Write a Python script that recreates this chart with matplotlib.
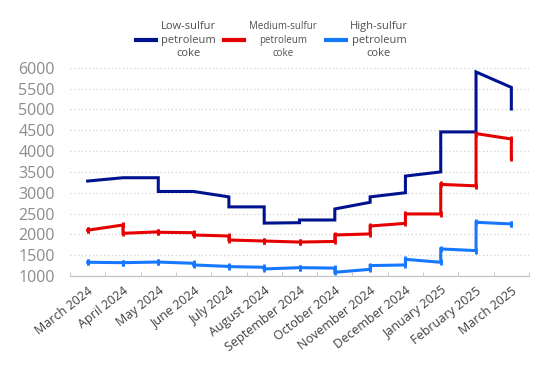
import matplotlib.pyplot as plt
import numpy as np

plt.rcParams['font.family'] = ['Open Sans', 'DejaVu Sans']

months = ['March 2024', 'April 2024', 'May 2024', 'June 2024', 'July 2024',
          'August 2024', 'September 2024', 'October 2024', 'November 2024',
          'December 2024', 'January 2025', 'February 2025', 'March 2025']

# each month: value the line arrives at, then value after the jump
low_in = [3280, 3360, 3360, 3030, 2900, 2660, 2280, 2345, 2770, 3000, 3500, 4460, 5530]
low_out = [3280, 3360, 3030, 3030, 2660, 2270, 2345, 2610, 2900, 3400, 4460, 5900, 5010]
mid_in = [2100, 2225, 2060, 2040, 1960, 1840, 1815, 1830, 2010, 2265, 2490, 3165, 4290]
mid_out = [2100, 2025, 2050, 1985, 1865, 1840, 1815, 1985, 2200, 2490, 3200, 4420, 3830]
high_in = [1330, 1320, 1335, 1305, 1230, 1210, 1200, 1190, 1160, 1265, 1330, 1610, 2250]
high_out = [1330, 1320, 1335, 1265, 1225, 1170, 1200, 1090, 1250, 1400, 1650, 2290, 2250]

names = ['Low-sulfur\npetroleum\ncoke', 'Medium-sulfur\npetroleum\ncoke', 'High-sulfur\npetroleum\ncoke']
colors = ['#00138F', '#E60000', '#1677FF']

fig = plt.figure(figsize=(5.5, 3.79), dpi=100)
ax = fig.add_axes([70/550, 1-276/379, (529-70)/550, (276-67.8)/379])

x = np.repeat(np.arange(len(months)), 2)

def path(a, b):
    return np.column_stack([a, b]).ravel()

l1, = ax.plot(x, path(low_in, low_out), color=colors[0], lw=2.2, solid_joinstyle='miter')
l2, = ax.plot(x, path(mid_in, mid_out), color=colors[1], lw=2.2, marker='|', ms=5, mew=2, solid_joinstyle='miter')
l3, = ax.plot(x, path(high_in, high_out), color=colors[2], lw=2.2, marker='|', ms=4, mew=2, solid_joinstyle='miter')

ax.set_xlim(-0.5, len(months) - 0.5)
ax.set_ylim(1000, 6000)
ax.set_yticks(np.arange(1000, 6001, 500))
ax.tick_params(axis='y', length=0, labelsize=11.5, labelcolor='#8C8C8C', pad=11)
ax.yaxis.grid(True, linestyle=(0, (1, 2)), color='#D0D0D0', lw=0.9)
ax.set_axisbelow(True)

ax.set_xticks(np.arange(len(months)))
ax.set_xticklabels(months, rotation=38, ha='right', rotation_mode='anchor', fontsize=9, color='#404040')
ax.set_xticks(np.arange(len(months) + 1) - 0.5, minor=True)
ax.tick_params(axis='x', which='major', length=0, pad=6)
ax.tick_params(axis='x', which='minor', direction='in', length=3, color='#BFBFBF')

for s in ['top', 'right', 'left']:
    ax.spines[s].set_visible(False)
ax.spines['bottom'].set_color('#BFBFBF')

leg = fig.legend([l1, l2, l3], names, ncol=3, loc='center', bbox_to_anchor=(272/550, 1-40/379),
                 frameon=False, fontsize=8, handlelength=1.8, columnspacing=0.8, handletextpad=0.4,
                 labelspacing=0.2)
for h in leg.legend_handles:
    h.set_marker('')
    h.set_linewidth(3)
for i, t in enumerate(leg.get_texts()):
    t.set_multialignment('center')
    t.set_color('#505050')
    t.set_linespacing(1.3)
    if i == 1:
        t.set_fontsize(7)

fig.savefig('out.png', dpi=100)
